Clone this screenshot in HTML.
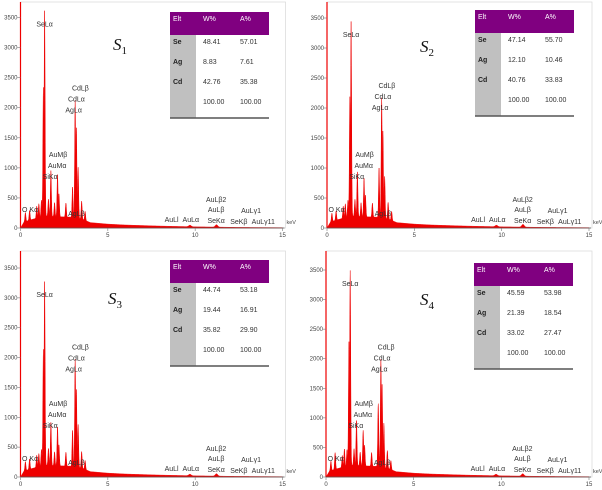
<!DOCTYPE html>
<html><head><meta charset="utf-8"><style>
html,body{margin:0;padding:0;background:#fff;}
svg{display:block;font-family:"Liberation Sans",sans-serif;}
</style></head><body>
<svg id="c" width="602" height="490" viewBox="0 0 602 490"></svg>
<script>
// ---- data ----
const panelNames = ["S1","S2","S3","S4"];
const yTicks = [0,500,1000,1500,2000,2500,3000,3500];
const xTicks = [0,5,10,15];
const peakEnergies = [0.28,0.52,0.93,1.05,1.2,1.31,1.38,1.6,1.74,1.95,2.12,2.2,2.6,2.98,3.13,3.2,3.3,3.5,3.7,9.7,11.22];
const s1Counts = [150,160,200,230,280,2150,3420,280,760,230,700,380,230,500,1950,1500,850,300,150,25,40];
const s2Counts = [140,150,200,230,280,2000,3250,280,740,230,640,360,230,820,2000,1450,700,280,150,25,45];
const s3Counts = [150,170,200,220,280,1950,3080,280,720,230,650,350,230,600,1800,1300,720,280,150,25,40];
const s4Counts = [160,280,200,300,280,2100,3300,280,760,230,600,350,230,1060,1820,1400,750,300,150,25,40];
const contE = [0,0.2,0.5,1,1.5,2,3,3.6,4,5,6,8,10,12,15];
const contC = [0,100,130,170,200,190,180,140,90,65,50,32,20,12,5];
const tblElt = ["Se","Ag","Cd",""];
const tblW = [["48.41","8.83","42.76","100.00"],["47.14","12.10","40.76","100.00"],["44.74","19.44","35.82","100.00"],["45.59","21.39","33.02","100.00"]];
const tblA = [["57.01","7.61","35.38","100.00"],["55.70","10.46","33.83","100.00"],["53.18","16.91","29.90","100.00"],["53.98","18.54","27.47","100.00"]];
const allCounts = [s1Counts,s2Counts,s3Counts,s4Counts];
// ---- layout ----
const panels = [
 {ox:20.5,oy:228,w:262,h:210.5,tx:170,ty:12,sx:113,sy:50},
 {ox:327,oy:228,w:262,h:210,tx:475,ty:10,sx:420,sy:52},
 {ox:20.5,oy:477,w:262,h:209,tx:170,ty:260,sx:108,sy:304},
 {ox:326,oy:477,w:263,h:207,tx:474,ty:263,sx:420,sy:305}];
const NS="http://www.w3.org/2000/svg";
const svg=document.getElementById('c');
function el(t,a,p){const e=document.createElementNS(NS,t);for(const k in a)e.setAttribute(k,a[k]);(p||svg).appendChild(e);return e;}
function txt(s,a,p){const e=el('text',a,p);e.textContent=s;return e;}
function cont(E){for(let i=1;i<contE.length;i++){if(E<=contE[i]){const t=(E-contE[i-1])/(contE[i]-contE[i-1]);return contC[i-1]+t*(contC[i]-contC[i-1]);}}return 0;}
panels.forEach((P,pi)=>{
 const g=el('g',{});
 
 
 const X=e=>P.ox+e/15*P.w, Y=c=>P.oy-c/3500*P.h;
 const counts=allCounts[pi];
 const fr=el('rect',{x:P.ox,y:P.oy-226,width:P.w+3,height:226,fill:'none',stroke:'#d8d8d8','stroke-width':0.7},g);
 
 let d='M'+X(0)+','+P.oy;
 for(let e=0;e<=15;e+=0.01){
  let m=0;
  for(let k=0;k<peakEnergies.length;k++){const s=peakEnergies[k]>5?0.07:0.028;m=Math.max(m,counts[k]*Math.exp(-Math.pow(e-peakEnergies[k],2)/(2*s*s)));}
  const c=cont(e)+m;
  d+=' L'+X(e).toFixed(2)+','+Y(c).toFixed(2);
 }
 d+=' L'+X(15)+','+P.oy+' Z';
 const sp=el('path',{d:d,fill:'#ee0000',stroke:'#ee0000','stroke-width':0.5},g);
 
 const ya=el('line',{x1:P.ox,y1:P.oy,x2:P.ox,y2:P.oy-226,stroke:'#e00','stroke-width':1.2},g);
 
 const xa=el('line',{x1:P.ox,y1:P.oy,x2:P.ox+P.w+2,y2:P.oy,stroke:'#555','stroke-width':0.8},g);
 
 yTicks.forEach(v=>{el('line',{x1:P.ox-3,x2:P.ox,y1:Y(v),y2:Y(v),stroke:'#777','stroke-width':0.6},g);
  const t=txt(v,{x:P.ox-3,y:Y(v)+2,'font-size':6,'text-anchor':'end',fill:'#444'},g);
  });
 xTicks.forEach(v=>{el('line',{x1:X(v),x2:X(v),y1:P.oy,y2:P.oy+3,stroke:'#777','stroke-width':0.6},g);
  const t=txt(v,{x:X(v),y:P.oy+9,'font-size':6,'text-anchor':'middle',fill:'#444'},g);
  });
 const kv=txt('keV',{x:P.ox+P.w+4,y:P.oy-4,'font-size':5.5,fill:'#444'},g);
 
 const selY=Y(counts[6])+4, cdY=Y(counts[14]);
 const labs=[["SeLα",X(1.38),selY,'middle'],["CdLβ",X(3.2)+4,cdY-20,'middle'],["CdLα",X(3.2),cdY-9,'middle'],["AgLα",X(3.1)-1,cdY+2,'middle'],
  ["AuMβ",X(2.15),P.oy-71,'middle'],["AuMα",X(2.1),P.oy-60,'middle'],["SiKα",X(1.7),P.oy-49,'middle'],["O Kα",X(0.55),P.oy-16,'middle'],
  ["AgLβ",X(3.2),P.oy-12,'middle'],["AuLl",X(8.65),P.oy-6,'middle'],["AuLα",X(9.75),P.oy-6,'middle'],["AuLβ2",X(11.2),P.oy-26,'middle'],
  ["AuLβ",X(11.2),P.oy-16,'middle'],["SeKα",X(11.2),P.oy-5,'middle'],["SeKβ",X(12.5),P.oy-4,'middle'],["AuLγ1",X(13.2),P.oy-15,'middle'],["AuLγ11",X(13.9),P.oy-4,'middle']];
 labs.forEach(l=>{const t=txt(l[0],{x:l[1],y:l[2],'font-size':7,'text-anchor':l[3],fill:'#333'},g);
  });
 const st=el('text',{x:P.sx,y:P.sy,'font-size':17,'font-style':'italic','font-family':'Liberation Serif, serif',fill:'#111'},g);
 
 st.textContent='S';const sub=el('tspan',{'font-size':11,dy:4,'font-style':'normal'},st);sub.textContent=panelNames[pi].slice(1);
 const tg=el('g',{},g);
 const tx=P.tx,ty=P.ty;
 el('rect',{x:tx,y:ty,width:99,height:23,fill:'#800080'},tg);
 el('rect',{x:tx,y:ty+23,width:26,height:83,fill:'#c0c0c0'},tg);
 el('line',{x1:tx,x2:tx+99,y1:ty+106,y2:ty+106,stroke:'#555','stroke-width':1.5},tg);
 [["Elt",tx+3],["W%",tx+33],["A%",tx+70]].forEach(h=>{const t=txt(h[0],{x:h[1],y:ty+9,'font-size':7,fill:'#fff'},tg);});
 for(let r=0;r<4;r++){const yy=ty+32+r*20;
  if(tblElt[r]){const t=txt(tblElt[r],{x:tx+3,y:yy,'font-size':7,'font-weight':'bold',fill:'#222'},tg);}
  const a=txt(tblW[pi][r],{x:tx+33,y:yy,'font-size':7,fill:'#333'},tg);
  const b=txt(tblA[pi][r],{x:tx+70,y:yy,'font-size':7,fill:'#333'},tg);}
});
</script>
</body></html>
